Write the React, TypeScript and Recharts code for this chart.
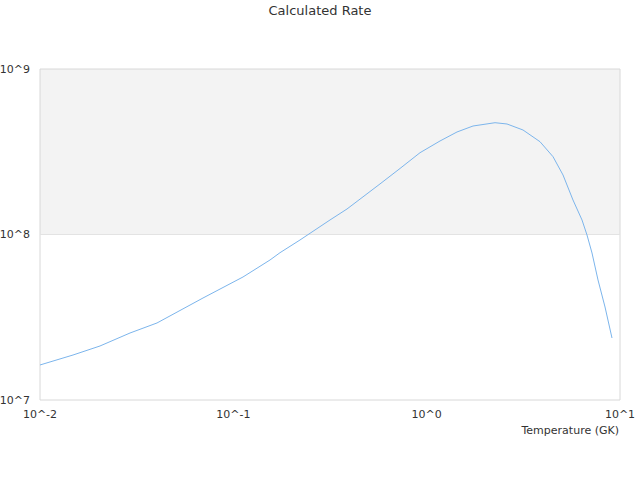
import { LineChart, Line, XAxis, YAxis, ReferenceArea, ReferenceLine } from "recharts"

// temperature in GK, rate
const temperatures = [
  0.01, 0.01482, 0.02043, 0.02921, 0.04029, 0.06967, 0.1122, 0.1548, 0.1743, 0.2212, 0.3162, 0.3872, 0.5735,
  0.7278, 0.9237, 1.172, 1.435, 1.737, 2.257, 2.603, 3.15, 3.857, 4.504, 5.073, 5.713, 6.361, 6.75, 7.165,
  7.695, 8.366, 9.091,
]
const rates = [
  1.628e7, 1.87e7, 2.12e7, 2.54e7, 2.92e7, 4.133e7, 5.537e7, 7.015e7, 7.762e7, 9.265e7, 1.224e8, 1.426e8,
  2.02e8, 2.505e8, 3.12e8, 3.673e8, 4.163e8, 4.524e8, 4.737e8, 4.653e8, 4.28e8, 3.636e8, 2.952e8, 2.288e8,
  1.616e8, 1.224e8, 9.931e7, 7.731e7, 5.311e7, 3.647e7, 2.369e7,
]
const xTicks = [0.01, 0.1, 1, 10]
const yTicks = [1e7, 1e8, 1e9]

const data = temperatures.map((t, i) => ({ t, rate: rates[i] }))

const powLabel = (v: number) => `10^${Math.round(Math.log10(v))}`

const font = "'DejaVu Sans', sans-serif"
const tickStyle = { fontSize: 11, fill: "#333", fontFamily: font }

const App = () => {
  return (
    <div style={{ position: "absolute", left: 0, top: 0, width: 640, height: 480, background: "#fff" }}>
      <div
        style={{
          position: "absolute",
          top: 3,
          left: 0,
          width: 640,
          textAlign: "center",
          fontFamily: font,
          fontSize: 13,
          color: "#333",
        }}
      >
        Calculated Rate
      </div>
      <LineChart width={640} height={480} data={data} margin={{ top: 69, right: 20, bottom: 40, left: 0 }}>
        <ReferenceArea y1={1e8} y2={1e9} fill="#f3f3f3" fillOpacity={1} stroke="none" ifOverflow="hidden" />
        <ReferenceLine y={1e8} stroke="#e3e3e3" />
        <ReferenceArea
          x1={0.01}
          x2={10}
          y1={1e7}
          y2={1e9}
          fill="none"
          stroke="#d8d8d8"
          strokeWidth={1}
        />
        <XAxis
          dataKey="t"
          type="number"
          scale="log"
          domain={[0.01, 10]}
          ticks={xTicks}
          tickFormatter={powLabel}
          tick={tickStyle}
          tickLine={false}
          axisLine={false}
          tickSize={6}
          tickMargin={4}
          height={40}
          allowDataOverflow
          interval={0}
          label={({ viewBox }: any) => (
            <text
              x={viewBox.x + viewBox.width - 1}
              y={viewBox.y + 34}
              textAnchor="end"
              fontSize={11}
              fontFamily={font}
              fill="#333"
            >
              Temperature (GK)
            </text>
          )}
        />
        <YAxis
          type="number"
          scale="log"
          domain={[1e7, 1e9]}
          ticks={yTicks}
          tickFormatter={powLabel}
          tick={tickStyle}
          tickLine={false}
          axisLine={false}
          tickSize={6}
          tickMargin={4}
          width={40}
          allowDataOverflow
          interval={0}
        />
        <Line
          type="linear"
          dataKey="rate"
          stroke="#7cb5ec"
          strokeWidth={1}
          dot={false}
          activeDot={false}
          isAnimationActive={false}
        />
      </LineChart>
    </div>
  )
}

export default App
